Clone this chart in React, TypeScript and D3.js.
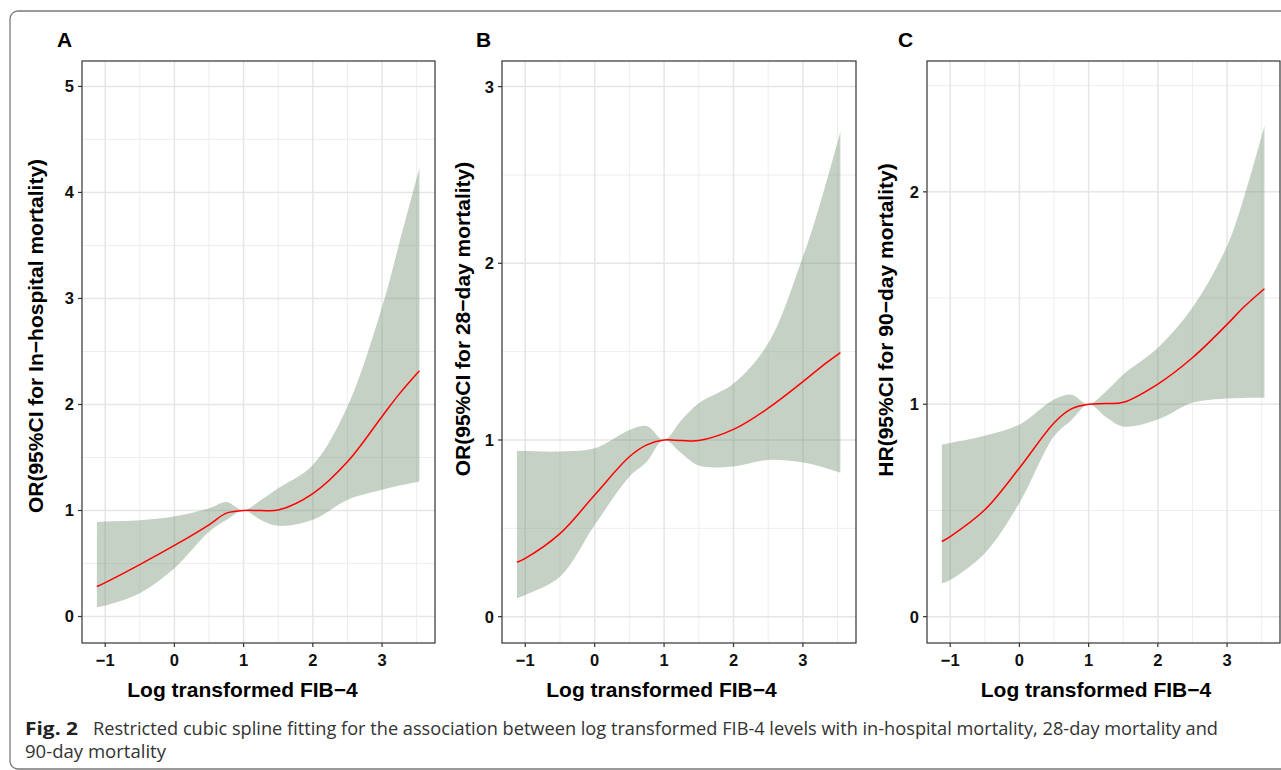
import React from "react";
import * as d3 from "d3";

// ---------- data ----------
const xGrid = [-1.12, -1, -0.5, 0, 0.5, 0.75, 1, 1.25, 1.5, 2, 2.5, 3, 3.25, 3.54];

const aFit = [0.283, 0.32, 0.49, 0.67, 0.865, 0.975, 1.0, 1.0, 1.005, 1.16, 1.46, 1.887, 2.1, 2.318];
const aLower = [0.088, 0.104, 0.22, 0.456, 0.8, 0.91, 1.0, 0.91, 0.855, 0.912, 1.1, 1.195, 1.235, 1.274];
const aUpper = [0.89, 0.895, 0.908, 0.943, 1.02, 1.08, 1.0, 1.1, 1.21, 1.43, 1.98, 2.92, 3.52, 4.23];

const bFit = [0.308, 0.33, 0.47, 0.689, 0.905, 0.972, 1.0, 0.997, 0.997, 1.06, 1.18, 1.33, 1.41, 1.494];
const bLower = [0.104, 0.123, 0.226, 0.519, 0.792, 0.877, 1.0, 0.925, 0.855, 0.85, 0.887, 0.872, 0.85, 0.815];
const bUpper = [0.938, 0.937, 0.935, 0.953, 1.057, 1.079, 1.0, 1.113, 1.208, 1.32, 1.547, 2.037, 2.34, 2.745];

const cFit = [0.354, 0.377, 0.503, 0.7, 0.912, 0.978, 1.0, 1.003, 1.009, 1.095, 1.219, 1.376, 1.46, 1.544];
const cLower = [0.157, 0.173, 0.299, 0.535, 0.849, 0.925, 1.0, 0.94, 0.895, 0.928, 1.007, 1.027, 1.03, 1.03];
const cUpper = [0.81, 0.818, 0.852, 0.904, 1.022, 1.045, 1.0, 1.06, 1.14, 1.266, 1.455, 1.745, 1.98, 2.31];

const xTicks = [-1, 0, 1, 2, 3];
const xMinor = [-0.5, 0.5, 1.5, 2.5, 3.5];
const aYTicks = [0, 1, 2, 3, 4, 5];
const bYTicks = [0, 1, 2, 3];
const cYTicks = [0, 1, 2];

const panelLetters = ["A", "B", "C"];
const yTitles = [
  "OR(95%CI for In\u2212hospital mortality)",
  "OR(95%CI for 28\u2212day mortality)",
  "HR(95%CI for 90\u2212day mortality)",
];
const xTitle = "Log transformed FIB\u22124";
const captionBold = "Fig. 2";
const captionLine1 =
  "Restricted cubic spline fitting for the association between log transformed FIB-4 levels with in-hospital mortality, 28-day mortality and";
const captionLine2 = "90-day mortality";

// ---------- layout ----------
const W = 1281;
const H = 770;
const TOP = 61;
const BOTTOM = 643;
const X_DOMAIN: [number, number] = [-1.335, 3.765];
const FONT = "'Liberation Sans', Arial, Helvetica, sans-serif";

const panels = [
  {
    letter: panelLetters[0], letterX: 57, title: yTitles[0], titleX: 43, titleY: 336, xTitleX: 242.5,
    left: 82, right: 435, yDomain: [-0.25, 5.24] as [number, number], yTicks: aYTicks,
    fit: aFit, lower: aLower, upper: aUpper,
  },
  {
    letter: panelLetters[1], letterX: 476, title: yTitles[1], titleX: 470, titleY: 319, xTitleX: 661.5,
    left: 502, right: 856, yDomain: [-0.149, 3.145] as [number, number], yTicks: bYTicks,
    fit: bFit, lower: bLower, upper: bUpper,
  },
  {
    letter: panelLetters[2], letterX: 898, title: yTitles[2], titleX: 893, titleY: 320, xTitleX: 1096,
    left: 927, right: 1280, yDomain: [-0.124, 2.616] as [number, number], yTicks: cYTicks,
    fit: cFit, lower: cLower, upper: cUpper,
  },
];

function Panel({ p }: { p: (typeof panels)[number] }) {
  const x = d3.scaleLinear().domain(X_DOMAIN).range([p.left, p.right]);
  const y = d3.scaleLinear().domain(p.yDomain).range([BOTTOM, TOP]);
  const yMinor = p.yTicks.slice(0, -1).map((t) => t + 0.5).filter((v) => v < p.yDomain[1]);
  const lastMinor = p.yTicks[p.yTicks.length - 1] + 0.5;
  if (lastMinor < p.yDomain[1]) yMinor.push(lastMinor);

  const rows = xGrid.map((xv, i) => ({ x: xv, f: p.fit[i], lo: p.lower[i], hi: p.upper[i] }));
  const curve = d3.curveCatmullRom.alpha(0.5);
  const area = d3
    .area<(typeof rows)[number]>()
    .x((d) => x(d.x))
    .y0((d) => y(d.lo))
    .y1((d) => y(d.hi))
    .curve(curve);
  const line = d3
    .line<(typeof rows)[number]>()
    .x((d) => x(d.x))
    .y((d) => y(d.f))
    .curve(curve);

  const clipId = `clip-${p.letter}`;
  return (
    <g>
      <defs>
        <clipPath id={clipId}>
          <rect x={p.left} y={TOP} width={p.right - p.left} height={BOTTOM - TOP} />
        </clipPath>
      </defs>
      <rect x={p.left} y={TOP} width={p.right - p.left} height={BOTTOM - TOP} fill="#fff" />
      <g clipPath={`url(#${clipId})`}>
        {yMinor.map((v) => (
          <line key={`ym${v}`} x1={p.left} x2={p.right} y1={y(v)} y2={y(v)} stroke="#eeeeee" strokeWidth={1} />
        ))}
        {xMinor.map((v) => (
          <line key={`xm${v}`} x1={x(v)} x2={x(v)} y1={TOP} y2={BOTTOM} stroke="#eeeeee" strokeWidth={1} />
        ))}
        {p.yTicks.map((v) => (
          <line key={`yM${v}`} x1={p.left} x2={p.right} y1={y(v)} y2={y(v)} stroke="#e6e6e6" strokeWidth={1.5} />
        ))}
        {xTicks.map((v) => (
          <line key={`xM${v}`} x1={x(v)} x2={x(v)} y1={TOP} y2={BOTTOM} stroke="#e6e6e6" strokeWidth={1.5} />
        ))}
        <path d={area(rows) || ""} fill="rgb(110,140,110)" fillOpacity={0.4} />
        <path d={line(rows) || ""} fill="none" stroke="#ff0000" strokeWidth={1.5} />
      </g>
      <rect x={p.left} y={TOP} width={p.right - p.left} height={BOTTOM - TOP} fill="none" stroke="#333333" strokeWidth={1.2} />
      {p.yTicks.map((v) => (
        <g key={`yt${v}`}>
          <line x1={p.left - 4} x2={p.left} y1={y(v)} y2={y(v)} stroke="#333333" strokeWidth={1.2} />
          <text x={p.left - 8} y={y(v) + 6} textAnchor="end" fontFamily={FONT} fontWeight="bold" fontSize={16.5} fill="#111">
            {v}
          </text>
        </g>
      ))}
      {xTicks.map((v) => (
        <g key={`xt${v}`}>
          <line x1={x(v)} x2={x(v)} y1={BOTTOM} y2={BOTTOM + 4} stroke="#333333" strokeWidth={1.2} />
          <text x={x(v)} y={666} textAnchor="middle" fontFamily={FONT} fontWeight="bold" fontSize={16.5} fill="#111">
            {v < 0 ? `\u2212${Math.abs(v)}` : v}
          </text>
        </g>
      ))}
      <text x={p.xTitleX} y={697} textAnchor="middle" fontFamily={FONT} fontWeight="bold" fontSize={21} fill="#000">
        {xTitle}
      </text>
      <text
        transform={`translate(${p.titleX},${p.titleY}) rotate(-90)`}
        textAnchor="middle"
        fontFamily={FONT}
        fontWeight="bold"
        fontSize={21}
        fill="#000"
      >
        {p.title}
      </text>
      <text x={p.letterX} y={47} fontFamily={FONT} fontWeight="bold" fontSize={21} fill="#000">
        {p.letter}
      </text>
    </g>
  );
}

export default function App() {
  return (
    <svg
      width={W}
      height={H}
      viewBox={`0 0 ${W} ${H}`}
      style={{ position: "fixed", left: 0, top: 0, display: "block", background: "#fff" }}
    >
      <rect x={0} y={0} width={W} height={H} fill="#fff" />
      <rect x={10} y={11} width={1300} height={758} rx={8} ry={8} fill="none" stroke="#7a7a7a" strokeWidth={1.3} />
      {panels.map((p) => (
        <Panel key={p.letter} p={p} />
      ))}
      <text x={25} y={735} fontFamily="'Open Sans', 'Noto Sans', sans-serif" fontWeight="bold" fontSize={18} fill="#222" textLength={53} lengthAdjust="spacingAndGlyphs">
        {captionBold}
      </text>
      <text x={93} y={735} fontFamily="'Open Sans', 'Noto Sans', sans-serif" fontSize={18} fill="#333" textLength={1125} lengthAdjust="spacingAndGlyphs">
        {captionLine1}
      </text>
      <text x={25} y={758} fontFamily="'Open Sans', 'Noto Sans', sans-serif" fontSize={18} fill="#333" textLength={141} lengthAdjust="spacingAndGlyphs">
        {captionLine2}
      </text>
    </svg>
  );
}
